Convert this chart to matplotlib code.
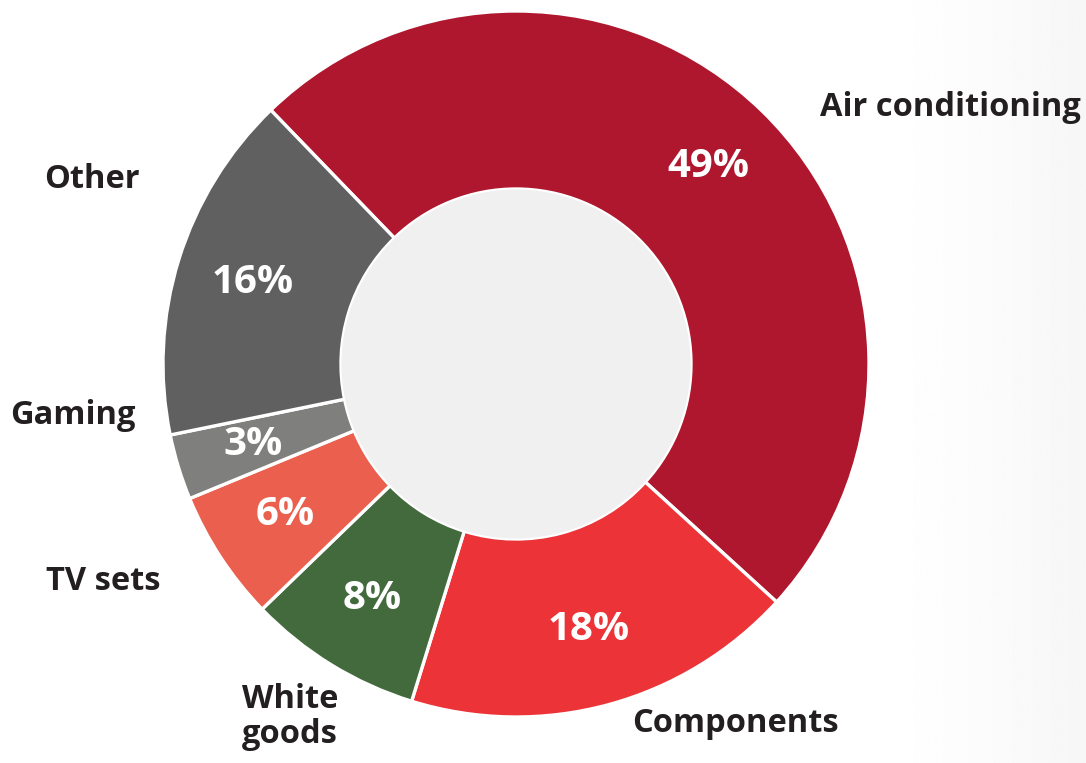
import numpy as np
import matplotlib.pyplot as plt
from matplotlib.patches import Circle

# data
categories = ["Air conditioning", "Components", "White\ngoods", "TV sets", "Gaming", "Other"]
shares = [49, 18, 8, 6, 3, 16]
colors = ["#ae172d", "#ec3338", "#436a3c", "#ea5f4d", "#7f7f7d", "#5f605f"]

# outer label positions in pixels (x, y from top) and alignment
label_pos = [(820, 108, "left"), (735, 724, "center"), (290, 717, "center"),
             (103, 582, "center"), (73, 415, "center"), (92, 180, "center")]

W, H = 1086, 763
plt.rcParams["font.family"] = ["Open Sans", "DejaVu Sans"]

fig = plt.figure(figsize=(W / 100, H / 100), dpi=100)
ax = fig.add_axes([0, 0, 1, 1])

# faint grey shading on the right side
grad = np.linspace(0, 1, 200)[None, :] ** 1.5
ax.imshow(1 - 0.035 * grad, cmap="gray", vmin=0, vmax=1, extent=[860, W, 0, H],
          aspect="auto", zorder=0)

cx, cy, r_out, r_in = 516, H - 364, 353, 175
wedges, _, pct = ax.pie(shares, colors=colors, startangle=134, counterclock=False,
                        center=(cx, cy), radius=r_out, autopct="%d%%",
                        pctdistance=0.78, frame=True,
                        wedgeprops=dict(width=r_out - r_in, edgecolor="white", linewidth=2.4),
                        textprops=dict(color="white", fontsize=29, fontweight="bold"))
for w in wedges:
    w.set_zorder(2)
for t in pct:
    t.set_zorder(4)
ax.add_patch(Circle((cx, cy), r_in - 0.5, facecolor="#f0f0f0", edgecolor="none", zorder=3))
ax.set_xlim(0, W)
ax.set_ylim(0, H)
ax.set_aspect("equal")
ax.axis("off")

for name, (x, y, ha) in zip(categories, label_pos):
    ax.text(x, H - y, name, ha=ha, va="center", fontsize=23.5, fontweight="bold",
            color="#231f20", linespacing=1.05, zorder=5)

fig.savefig("out.png", dpi=100)
